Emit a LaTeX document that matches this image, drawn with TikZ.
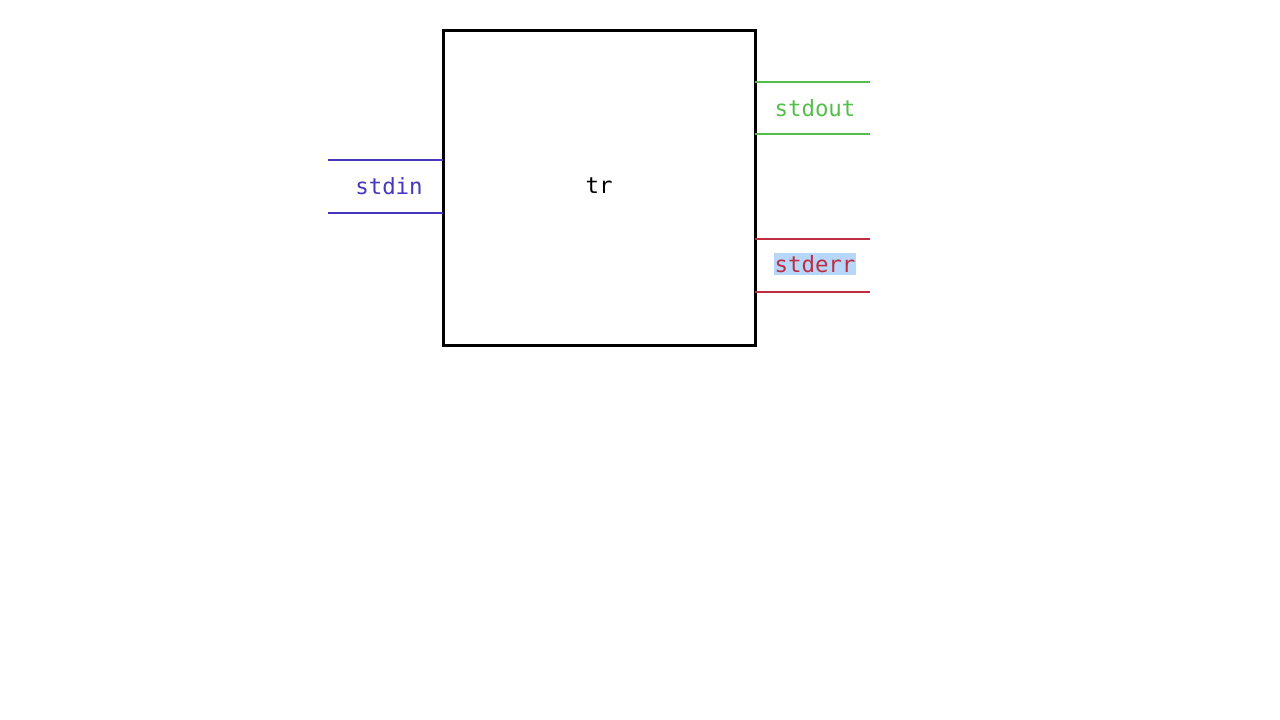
\documentclass[tikz,border=0pt]{standalone}
\usepackage{fontspec}
\setmonofont{DejaVu Sans Mono}
\definecolor{inblue}{RGB}{70,55,190}
\definecolor{outgreen}{RGB}{85,190,75}
\definecolor{errred}{RGB}{190,45,65}
\definecolor{selblue}{RGB}{182,214,250}
\begin{document}
\begin{tikzpicture}[x=1pt,y=-1pt]

      \useasboundingbox (0,0) rectangle (1280,720);

      \begin{scope}[every node/.style={rectangle, inner sep=0pt, font=\ttfamily\fontsize{22.4}{26}\selectfont}]
        \node[draw, line width=3pt, minimum width=312pt, minimum height=315pt] (tr) at (599,187.5) {};
        \node (trlabel) at (599,186) {tr};
        \node[minimum width=115pt, minimum height=53pt] (in)  at (385.5,186.5) {};
        \node[minimum width=115pt, minimum height=52pt] (out) at (812.5,108)  {};
        \node[minimum width=115pt, minimum height=53pt] (err) at (812.5,265.5) {};
      \end{scope}

      \begin{scope}[every node/.style={inner xsep=1pt, inner ysep=2.5pt, font=\ttfamily\fontsize{22.4}{26}\selectfont}]
        \node[text=inblue]   (inlabel)  at (389,186) {stdin};
        \node[text=outgreen] (outlabel) at (815,108) {stdout};
        \node[text=errred, fill=selblue] (errlabel) at (815,264) {stderr};
      \end{scope}

      % pipe walls
      \begin{scope}[line width=1.8pt]
        \draw[inblue]   (in.north west)  -- (in.north east);
        \draw[inblue]   (in.south west)  -- (in.south east);
        \draw[outgreen] (out.north west) -- (out.north east);
        \draw[outgreen] (out.south west) -- (out.south east);
        \draw[errred]   (err.north west) -- (err.north east);
        \draw[errred]   (err.south west) -- (err.south east);
      \end{scope}

    \end{tikzpicture}
\end{document}
